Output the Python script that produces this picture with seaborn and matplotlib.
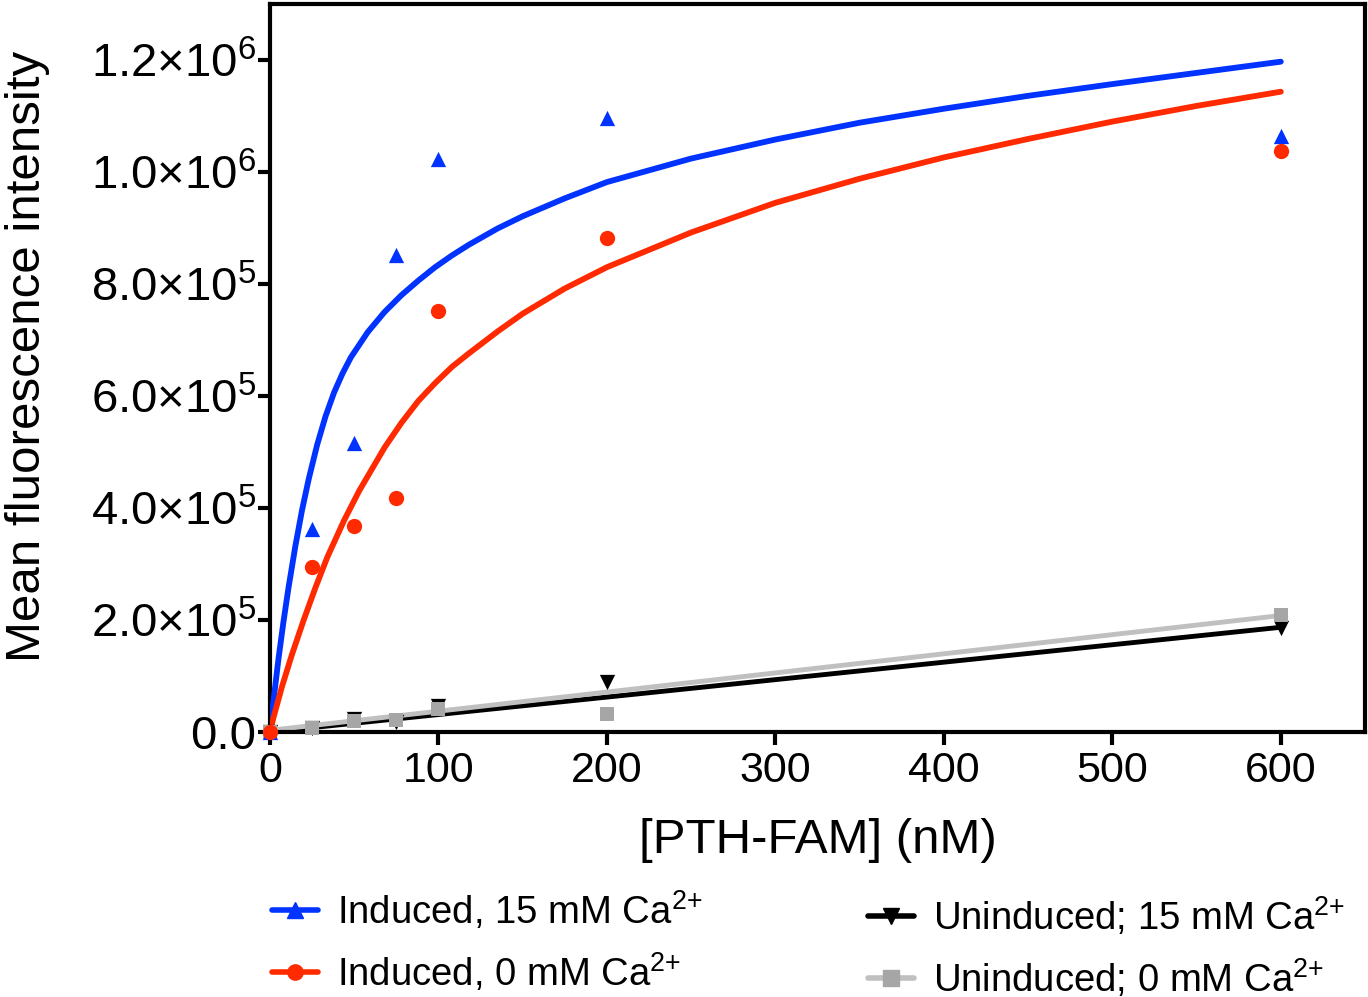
import math
import matplotlib.pyplot as plt
import matplotlib.ticker as mticker
from matplotlib.lines import Line2D
import seaborn as sns

# measured points (nM vs mean fluorescence)
conc = [0, 25, 50, 75, 100, 200, 600]
induced_15 = [0, 3.62e5, 5.16e5, 8.52e5, 1.023e6, 1.096e6, 1.064e6]
induced_0 = [0, 2.95e5, 3.68e5, 4.18e5, 7.52e5, 8.82e5, 1.037e6]
uninduced_15 = [0, 8e3, 2.4e4, 1.8e4, 4.6e4, 8.9e4, 1.85e5]
uninduced_0 = [0, 8e3, 2.0e4, 2.1e4, 4.1e4, 3.2e4, 2.09e5]

# fitted curves
fit_x_15 = [0, 2, 5, 8, 11, 15, 19, 23, 28, 33, 38, 43, 48, 58, 68, 78, 88, 98, 108, 118,
            135, 150, 175, 200, 250, 300, 350, 400, 450, 500, 550, 600]
fit_induced_15 = [0, 5.4e4, 1.30e5, 1.97e5, 2.58e5, 3.31e5, 3.96e5, 4.52e5, 5.13e5, 5.64e5,
                  6.06e5, 6.40e5, 6.69e5, 7.14e5, 7.50e5, 7.80e5, 8.06e5, 8.30e5, 8.51e5,
                  8.70e5, 8.99e5, 9.21e5, 9.53e5, 9.82e5, 1.024e6, 1.058e6, 1.088e6,
                  1.113e6, 1.136e6, 1.157e6, 1.177e6, 1.197e6]
fit_x_0 = [0, 2, 7, 13, 20, 27, 34, 44, 53, 68, 78, 88, 98, 108, 118,
           135, 150, 175, 200, 250, 300, 350, 400, 450, 500, 550, 600]
fit_induced_0 = [0, 2.5e4, 8.0e4, 1.38e5, 2.0e5, 2.58e5, 3.12e5, 3.78e5, 4.31e5, 5.08e5,
                 5.52e5, 5.91e5, 6.23e5, 6.52e5, 6.76e5, 7.15e5, 7.47e5, 7.92e5, 8.30e5,
                 8.92e5, 9.45e5, 9.88e5, 1.026e6, 1.059e6, 1.09e6, 1.118e6, 1.1434e6]
lin_x = [0, 600]
fit_uninduced_15 = [0, 1.87e5]
fit_uninduced_0 = [3e3, 2.08e5]

labels = [r'Induced, 15 mM Ca$^{2{+}}$', r'Induced, 0 mM Ca$^{2{+}}$',
          r'Uninduced; 15 mM Ca$^{2{+}}$', r'Uninduced; 0 mM Ca$^{2{+}}$']

BLUE = '#0033ff'
RED = '#ff2a00'
GREY_PT = '#a6a6a6'
GREY_LN = '#c0c0c0'

sns.set_style('ticks')
plt.rcParams['font.family'] = ['Liberation Sans', 'DejaVu Sans']
plt.rcParams['mathtext.fontset'] = 'custom'
plt.rcParams['mathtext.rm'] = 'Liberation Sans'
plt.rcParams['mathtext.sf'] = 'Liberation Sans'
plt.rcParams['text.color'] = 'black'
plt.rcParams['axes.labelcolor'] = 'black'
plt.rcParams['xtick.color'] = 'black'
plt.rcParams['ytick.color'] = 'black'

fig = plt.figure(figsize=(13.68, 9.97), dpi=100)
ax = fig.add_axes([270 / 1368, 1 - 732 / 997, 1095 / 1368, 728 / 997])

# fit lines
sns.lineplot(x=lin_x, y=fit_uninduced_15, color='black', lw=3.5, ax=ax, zorder=2)
sns.lineplot(x=lin_x, y=fit_uninduced_0, color=GREY_LN, lw=3.5, ax=ax, zorder=2)
sns.lineplot(x=fit_x_15, y=fit_induced_15, color=BLUE, lw=4.2, ax=ax, zorder=3)
sns.lineplot(x=fit_x_0, y=fit_induced_0, color=RED, lw=4.2, ax=ax, zorder=3)

# data points
sns.scatterplot(x=conc, y=uninduced_15, marker='v', color='black', s=121, linewidth=0,
                ax=ax, zorder=4, clip_on=False)
sns.scatterplot(x=conc, y=uninduced_0, marker='s', color=GREY_PT, s=110, linewidth=0,
                ax=ax, zorder=5, clip_on=False)
sns.scatterplot(x=conc, y=induced_15, marker='^', color=BLUE, s=121, linewidth=0,
                ax=ax, zorder=6, clip_on=False)
sns.scatterplot(x=conc, y=induced_0, marker='o', color=RED, s=121, linewidth=0,
                ax=ax, zorder=7, clip_on=False)

ax.set_xlim(0, 650)
ax.set_ylim(0, 1.3e6)
ax.set_xticks([0, 100, 200, 300, 400, 500, 600])
ax.set_yticks([0, 2e5, 4e5, 6e5, 8e5, 1e6, 1.2e6])


def sci_label(v, pos):
    if v == 0:
        return '0.0'
    exp = int(math.floor(math.log10(v) + 1e-9))
    mant = v / 10 ** exp
    return r'$\mathsf{%.1f{\times}10^{%d}}$' % (mant, exp)


ax.yaxis.set_major_formatter(mticker.FuncFormatter(sci_label))

for sp in ax.spines.values():
    sp.set_linewidth(3)
    sp.set_color('black')
ax.tick_params(axis='both', length=9, width=3, color='black')
ax.tick_params(axis='y', pad=1, labelsize=34)
ax.tick_params(axis='x', pad=5, labelsize=31)

ax.set_xlabel('[PTH-FAM] (nM)', fontsize=35.5)
ax.set_ylabel('Mean fluorescence intensity', fontsize=35.5)
ax.xaxis.set_label_coords(0.5, -0.118)
ax.yaxis.set_label_coords(-0.201, 0.5165)

handles = [
    Line2D([], [], color=BLUE, marker='^', ms=11, lw=4),
    Line2D([], [], color=RED, marker='o', ms=11, lw=4),
    Line2D([], [], color='black', marker='v', ms=11, lw=4),
    Line2D([], [], color=GREY_LN, marker='s', ms=11, mfc=GREY_PT, mec=GREY_PT, lw=4),
]
leg_kw = dict(loc='upper left', frameon=False, fontsize=27.5, handlelength=1.2,
              handletextpad=0.5, labelspacing=0.5, borderpad=0, borderaxespad=0)
fig.legend(handles[:2], labels[:2], bbox_to_anchor=(272 / 1368, 1 - 889 / 997), **leg_kw)
fig.legend(handles[2:], labels[2:], bbox_to_anchor=(868 / 1368, 1 - 895 / 997), **leg_kw)

fig.savefig('out.png', dpi=100)
